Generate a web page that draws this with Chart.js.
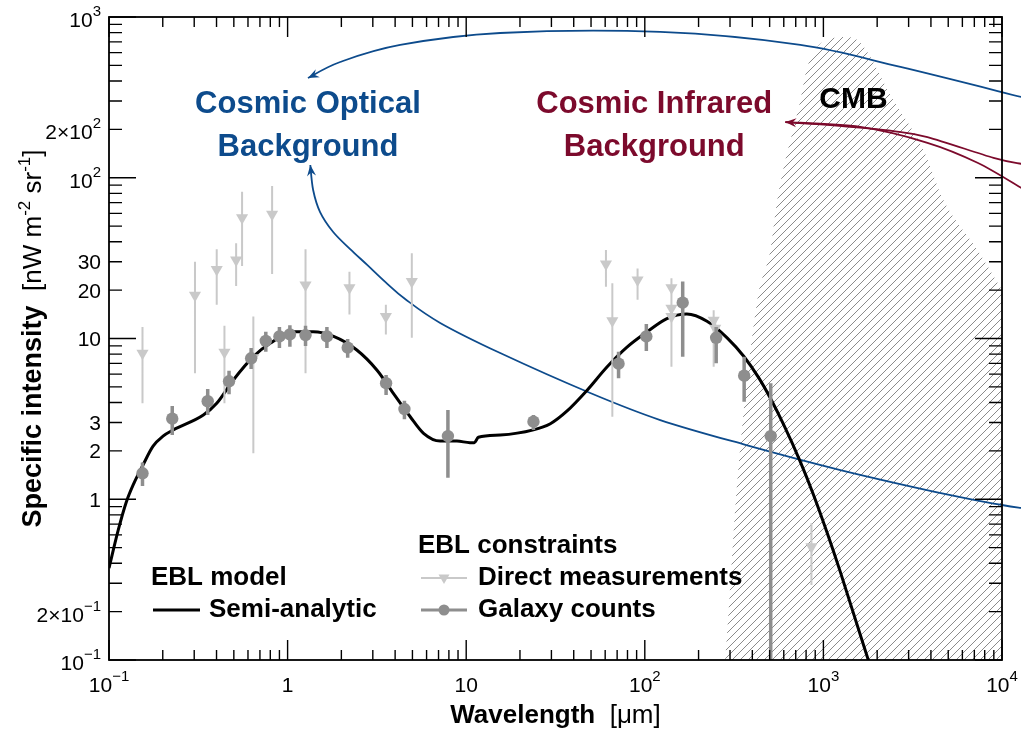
<!DOCTYPE html>
<html><head><meta charset="utf-8">
<script src="https://cdn.jsdelivr.net/npm/chart.js@4.4.1/dist/chart.umd.min.js"></script>
<style>html,body{margin:0;padding:0;background:#fff;}canvas{display:block;}</style>
</head><body>
<canvas id="c" width="1021" height="730"></canvas>
<script>
// ---------------- data (wavelength in micrometres, intensity in nW m^-2 sr^-1) ----------------
const modelWavelength = [0.1,0.1127,0.1245,0.138,0.154,0.1765,0.2007,0.229,0.3375,0.401,0.497,0.643,0.798,1.078,1.39,1.81,2.44,3.16,3.91,4.86,5.77,7.15,8.87,10.5,11.1,11.7,15.5,23.8,29.6,36.6,47.4,61.4,79.5,103,133,172,223,289,358,434,505,599,743,882,1053,1245,1794,2138];
const modelIntensity  = [0.373,0.644,0.948,1.26,1.61,2.14,2.47,2.70,3.34,3.95,5.52,7.71,9.33,11.0,11.0,10.3,8.48,6.37,4.56,3.26,2.57,2.30,2.30,2.25,2.25,2.43,2.51,2.70,2.95,3.53,4.75,6.65,8.84,11.0,13.3,14.2,12.8,10.1,7.76,5.71,4.25,2.91,1.71,1.06,0.612,0.352,0.098,0.052];

const galaxyWavelength = [0.154,0.226,0.357,0.470,0.625,0.755,0.90,1.03,1.26,1.66,2.17,3.56,4.51,7.90,23.8,71.3,102,163,251,360,507];
const galaxyIntensity  = [1.45,3.17,4.07,5.42,7.53,9.65,10.3,10.6,10.5,10.3,8.77,5.27,3.64,2.47,3.04,6.97,10.3,16.7,10.1,5.87,2.47];
const galaxyHigh       = [1.69,3.80,4.85,6.30,8.73,11.0,11.8,12.1,12.0,11.8,9.93,5.93,4.10,3.59,3.34,8.28,12.3,22.6,11.8,7.71,5.27];
const galaxyLow        = [1.21,2.51,3.34,4.50,6.46,8.28,8.73,8.89,8.98,8.73,7.60,4.45,3.14,1.36,2.70,5.66,8.36,7.71,7.01,4.04,0.05];

const directWavelength = [0.154,0.303,0.401,0.443,0.515,0.556,0.643,0.819,1.26,2.22,3.55,4.96,60.6,65.8,91.1,141,141,141,243,248,857];
const directIntensity  = [8.09,18.6,26.9,8.20,30.8,56.4,7.6,59.2,21.5,20.7,13.7,22.6,29.1,12.9,23.1,20.7,15.4,13.7,13.0,11.6,0.507];
const directHigh       = [11.8,30.0,35.9,12.0,39.1,81.9,13.7,88.9,35.9,26.0,16.2,33.9,35.5,22.1,27.3,23.7,19.2,16.0,15.0,13.5,0.708];
const directLow        = [3.95,6.08,16.2,3.95,21.2,28.3,1.93,25.2,6.08,14.1,10.6,10.1,21.0,3.26,17.4,17.9,6.68,8.0,6.68,9.5,0.293];

const cmbWavelength = [270,282,330,427,505,552,743,813,1138,1327,1549,2466,3631,4699,7295,10000];
const cmbIntensity  = [0.06,0.1,1.32,17.4,35.5,72.7,304,489,740,752,720,304,149,72.7,35.5,20];

const xTickValues = [0.1,1,10,100,1000,10000];
const xTickLabels = [['10','\u22121'],['1',''],['10',''],['10','2'],['10','3'],['10','4']];
const yTickValues = [0.1,0.2,1,2,3,10,20,30,100,200,1000];
const yTickLabels = [['10','\u22121'],['2\u00d710','\u22121'],['1',''],['2',''],['3',''],['10',''],['20',''],['30',''],['10','2'],['2\u00d710','2'],['10','3']];

// annotation arrows (data units)
const blueTopArrowX = [12850,2700,743,122,15.5,4.27,1.97,1.30];
const blueTopArrowY = [318,489,670,807,795,670,525,417];
const blueLowArrowX = [12850,10000,5147,1245,366,122,49.5,15.5,7.15,4.55,3.52,2.79,2.24,1.80,1.52,1.39,1.34];
const blueLowArrowY = [0.882,0.921,1.06,1.52,2.18,3.11,4.58,8.12,12.5,17.6,22.5,28.7,36.0,46.0,61.2,83.9,120];
const redUpArrowX = [12850,8964,3824,2466,1053,612];
const redUpArrowY = [122,133,179,195,213,222];
const redLowArrowX = [12850,7290,3824,1611,612];
const redLowArrowY = [86.3,124,165,207,222];

// ---------------- styling ----------------
const FONT = '"Liberation Sans", Arial, Helvetica, sans-serif';
const BLUE = '#0d4b8c';
const RED = '#7c0a2c';
const GAL = '#8e8e8e';
const DIR = '#c9c9c9';

function pts(xs, ys){ return xs.map((x,i)=>({x, y: ys[i]})); }
function errPts(xs, lo, hi){
  const out=[];
  xs.forEach((x,i)=>{ out.push({x, y: lo[i]}); out.push({x, y: hi[i]}); out.push({x, y: null}); });
  return out;
}

// hatch pattern
const pc = document.createElement('canvas'); pc.width = 8; pc.height = 8;
const pctx = pc.getContext('2d');
pctx.strokeStyle = 'rgba(60,60,60,0.75)'; pctx.lineWidth = 0.8;
pctx.beginPath();
pctx.moveTo(0,8); pctx.lineTo(8,0);
pctx.moveTo(-2,2); pctx.lineTo(2,-2);
pctx.moveTo(6,10); pctx.lineTo(10,6);
pctx.stroke();
const hatch = document.getElementById('c').getContext('2d').createPattern(pc,'repeat');

function spline(ctx, p){
  ctx.beginPath(); ctx.moveTo(p[0][0], p[0][1]);
  for(let i=0;i<p.length-1;i++){
    const p0=p[Math.max(i-1,0)], p1=p[i], p2=p[i+1], p3=p[Math.min(i+2,p.length-1)];
    ctx.bezierCurveTo(p1[0]+(p2[0]-p0[0])/6, p1[1]+(p2[1]-p0[1])/6,
                      p2[0]-(p3[0]-p1[0])/6, p2[1]-(p3[1]-p1[1])/6, p2[0], p2[1]);
  }
  ctx.stroke();
}
function head(ctx, tip, from, len, half){
  let dx=tip[0]-from[0], dy=tip[1]-from[1]; const L=Math.hypot(dx,dy); dx/=L; dy/=L;
  const bx=tip[0]-dx*len, by=tip[1]-dy*len;
  ctx.beginPath(); ctx.moveTo(tip[0],tip[1]);
  ctx.lineTo(bx-dy*half, by+dx*half);
  ctx.lineTo(tip[0]-dx*len*0.65, tip[1]-dy*len*0.65);
  ctx.lineTo(bx+dy*half, by-dx*half);
  ctx.closePath(); ctx.fill();
}
function toPx(chart, xs, ys){
  return xs.map((x,i)=>[chart.scales.x.getPixelForValue(x), chart.scales.y.getPixelForValue(ys[i])]);
}
function drawArrow(chart, xs, ys, color, withHead){
  const ctx=chart.ctx; const p=toPx(chart, xs, ys);
  ctx.save(); ctx.strokeStyle=color; ctx.fillStyle=color; ctx.lineWidth=1.8;
  spline(ctx, p);
  if(withHead){ const n=p.length; head(ctx, p[n-1], p[n-2], 11, 4.5); }
  ctx.restore();
}
function runs(ctx, list, x, y, align){
  let w=0; list.forEach(r=>{ ctx.font=r.f; r.w=ctx.measureText(r.t).width; w+=r.w; });
  let cx = align==='center' ? x-w/2 : (align==='right' ? x-w : x);
  ctx.textAlign='left'; ctx.textBaseline='alphabetic';
  list.forEach(r=>{ ctx.font=r.f; ctx.fillText(r.t, cx, y+(r.dy||0)); cx+=r.w; });
}
function tickLabel(ctx, lab, x, y, align){
  const l=[{t:lab[0], f:'21px '+FONT}];
  if(lab[1]) l.push({t:lab[1], f:'15px '+FONT, dy:-11});
  runs(ctx, l, x, y, align);
}

const decor = {
  id: 'decor',
  afterDatasetDraw(chart, args){
    if(chart.data.datasets[args.index].label !== 'CMB') return;
    drawArrow(chart, blueTopArrowX, blueTopArrowY, BLUE, true);
    drawArrow(chart, blueLowArrowX, blueLowArrowY, BLUE, true);
    drawArrow(chart, redUpArrowX, redUpArrowY, RED, true);
    drawArrow(chart, redLowArrowX, redLowArrowY, RED, false);
  },
  afterDraw(chart){
    const ctx=chart.ctx, a=chart.chartArea, sx=chart.scales.x, sy=chart.scales.y;
    ctx.save();
    // frame
    ctx.strokeStyle='#000'; ctx.lineWidth=1.8;
    ctx.strokeRect(a.left, a.top, a.right-a.left, a.bottom-a.top);
    // ticks
    ctx.lineWidth=1.4; ctx.beginPath();
    for(let e=-1;e<=4;e++){
      for(let m=1;m<=9;m++){
        const v=m*Math.pow(10,e); if(v>10000.001) continue;
        const X=sx.getPixelForValue(v); const L = m===1?20:10;
        ctx.moveTo(X,a.bottom); ctx.lineTo(X,a.bottom-L);
        ctx.moveTo(X,a.top); ctx.lineTo(X,a.top+L);
      }
    }
    for(let e=-1;e<=3;e++){
      for(let m=1;m<=9;m++){
        const v=m*Math.pow(10,e); if(v>1000.001) continue;
        const Y=sy.getPixelForValue(v); const L = m===1?27:13;
        ctx.moveTo(a.left,Y); ctx.lineTo(a.left+L,Y);
        ctx.moveTo(a.right,Y); ctx.lineTo(a.right-L,Y);
      }
    }
    ctx.stroke();
    // tick labels
    ctx.fillStyle='#000';
    xTickValues.forEach((v,i)=> tickLabel(ctx, xTickLabels[i], sx.getPixelForValue(v), a.bottom+32, 'center'));
    yTickValues.forEach((v,i)=> {
      const lab=yTickLabels[i];
      tickLabel(ctx, lab, a.left-8, sy.getPixelForValue(v)+(lab[1]?10:7.5), 'right');
    });
    // axis titles
    runs(ctx, [{t:'Wavelength', f:'bold 26px '+FONT},{t:'  [\u03bcm]', f:'26px '+FONT}], (a.left+a.right)/2, a.bottom+63, 'center');
    ctx.save(); ctx.translate(41,(a.top+a.bottom)/2); ctx.rotate(-Math.PI/2);
    runs(ctx, [{t:'Specific intensity', f:'bold 27px '+FONT},{t:'  [nW m', f:'26px '+FONT},{t:'-2', f:'17px '+FONT, dy:-11},
               {t:' sr', f:'26px '+FONT},{t:'-1', f:'17px '+FONT, dy:-11},{t:']', f:'26px '+FONT}], 0, 0, 'center');
    ctx.restore();
    // legend
    const LF='bold 26px '+FONT;
    ctx.fillStyle='#000';
    runs(ctx, [{t:'EBL model', f:LF}], 151, 585, 'left');
    ctx.strokeStyle='#000'; ctx.lineWidth=3; ctx.beginPath(); ctx.moveTo(153,610); ctx.lineTo(200,610); ctx.stroke();
    runs(ctx, [{t:'Semi-analytic', f:LF}], 209, 617, 'left');
    runs(ctx, [{t:'EBL constraints', f:LF}], 418, 553, 'left');
    ctx.strokeStyle=DIR; ctx.lineWidth=2; ctx.beginPath(); ctx.moveTo(421,578); ctx.lineTo(467,578); ctx.stroke();
    ctx.fillStyle=DIR; ctx.beginPath(); ctx.moveTo(444,584); ctx.lineTo(438.5,574.5); ctx.lineTo(449.5,574.5); ctx.closePath(); ctx.fill();
    ctx.fillStyle='#000'; runs(ctx, [{t:'Direct measurements', f:LF}], 478, 585, 'left');
    ctx.strokeStyle=GAL; ctx.lineWidth=3; ctx.beginPath(); ctx.moveTo(421,610); ctx.lineTo(467,610); ctx.stroke();
    ctx.fillStyle=GAL; ctx.beginPath(); ctx.arc(444,610,5.5,0,Math.PI*2); ctx.fill();
    ctx.fillStyle='#000'; runs(ctx, [{t:'Galaxy counts', f:LF}], 478, 617, 'left');
    // annotations
    const AF='bold 31px '+FONT;
    const optX=sx.getPixelForValue(1.30), irX=sx.getPixelForValue(113), cmbX=sx.getPixelForValue(1472);
    const l1=sy.getPixelForValue(253), l2=sy.getPixelForValue(137), lc=sy.getPixelForValue(272);
    ctx.fillStyle=BLUE;
    runs(ctx, [{t:'Cosmic Optical', f:AF}], optX, l1, 'center');
    runs(ctx, [{t:'Background', f:AF}], optX, l2, 'center');
    ctx.fillStyle=RED;
    runs(ctx, [{t:'Cosmic Infrared', f:AF}], irX, l1, 'center');
    runs(ctx, [{t:'Background', f:AF}], irX, l2, 'center');
    ctx.fillStyle='#000';
    runs(ctx, [{t:'CMB', f:'bold 30px '+FONT}], cmbX, lc, 'center');
    ctx.restore();
  }
};

new Chart(document.getElementById('c'), {
  type: 'scatter',
  data: { datasets: [
    { label:'CMB', data: pts(cmbWavelength, cmbIntensity), showLine:true, fill:'start',
      backgroundColor: hatch, borderColor:'rgba(0,0,0,0)', borderWidth:0, pointRadius:0,
      cubicInterpolationMode:'monotone', order:6 },
    { label:'Semi-analytic', data: pts(modelWavelength, modelIntensity), showLine:true, fill:false,
      borderColor:'#000', borderWidth:3, pointRadius:0, cubicInterpolationMode:'monotone', order:5 },
    { label:'Direct errors', data: errPts(directWavelength, directLow, directHigh), showLine:true, spanGaps:false,
      borderColor:DIR, borderWidth:2, pointRadius:0, order:4 },
    { label:'Direct measurements', data: pts(directWavelength, directIntensity), showLine:false,
      pointStyle:'triangle', rotation:180, pointRadius:7, backgroundColor:DIR, borderColor:DIR, borderWidth:0, order:3 },
    { label:'Galaxy errors', data: errPts(galaxyWavelength, galaxyLow, galaxyHigh), showLine:true, spanGaps:false,
      borderColor:GAL, borderWidth:3.5, pointRadius:0, order:2 },
    { label:'Galaxy counts', data: pts(galaxyWavelength, galaxyIntensity), showLine:false,
      pointStyle:'circle', pointRadius:6.2, backgroundColor:GAL, borderColor:GAL, borderWidth:0, order:1 }
  ]},
  options: {
    responsive:false, devicePixelRatio:1, animation:false, events:[],
    layout: { padding: { left:109, right:19, top:17, bottom:70 } },
    scales: {
      x: { type:'logarithmic', min:0.1, max:10000, display:false },
      y: { type:'logarithmic', min:0.1, max:1000, display:false }
    },
    plugins: { legend:{display:false}, tooltip:{enabled:false}, title:{display:false} }
  },
  plugins: [decor]
});
</script>
</body></html>
